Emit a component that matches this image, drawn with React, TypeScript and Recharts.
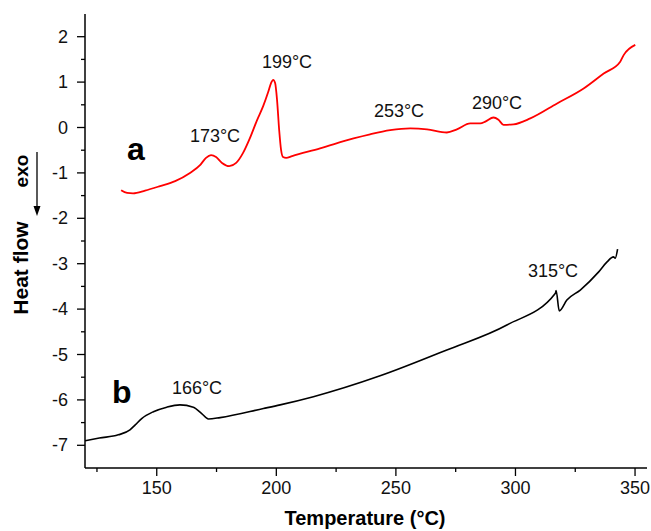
import { LineChart, Line, XAxis, YAxis } from 'recharts'

// curve a (red)
const tempA = [135.1, 137.6, 140.1, 145.1, 151.4, 157.7, 163.9, 168.1, 170.6, 172.7, 174.8, 177.3, 180.3, 183.2, 186.1, 189.0, 192.0, 194.5, 196.6, 197.8, 198.7, 199.5, 200.3, 201.2, 202.0, 202.8, 204.1, 206.6, 218.3, 232.3, 239.2, 247.6, 256.0, 263.0, 271.3, 275.5, 281.1, 285.3, 287.4, 290.8, 292.9, 295.0, 299.2, 306.2, 317.4, 328.5, 336.9, 343.8, 345.3, 350.1]
const flowA = [-1.38, -1.44, -1.45, -1.39, -1.29, -1.18, -1.0, -0.83, -0.67, -0.61, -0.65, -0.78, -0.85, -0.78, -0.56, -0.23, 0.17, 0.47, 0.78, 0.98, 1.05, 0.98, 0.61, -0.06, -0.5, -0.65, -0.67, -0.63, -0.46, -0.24, -0.15, -0.06, -0.02, -0.04, -0.11, -0.04, 0.09, 0.09, 0.13, 0.22, 0.17, 0.06, 0.07, 0.2, 0.53, 0.86, 1.19, 1.45, 1.6, 1.82]

// curve b (black)
const tempB = [120, 126, 133.9, 138.8, 141, 143.7, 148.6, 154.2, 159.7, 165.3, 168.8, 171.6, 176.5, 194.6, 201.6, 215.5, 243.4, 271.3, 296.4, 316.7, 317.0, 318.3, 321.5, 327.1, 334.8, 338.3, 341.0, 341.7, 342.7]
const flowB = [-6.9, -6.84, -6.77, -6.66, -6.55, -6.41, -6.26, -6.16, -6.11, -6.16, -6.3, -6.42, -6.39, -6.19, -6.11, -5.93, -5.47, -4.9, -4.35, -3.65, -3.59, -4.04, -3.8, -3.58, -3.18, -2.96, -2.85, -2.88, -2.68]

const xTicks = [125, 150, 175, 200, 225, 250, 275, 300, 325, 350]
const yTicks = [-7, -6.5, -6, -5.5, -5, -4.5, -4, -3.5, -3, -2.5, -2, -1.5, -1, -0.5, 0, 0.5, 1, 1.5, 2]

const seriesA = tempA.map((t, i) => ({ t, v: flowA[i] }))
const seriesB = tempB.map((t, i) => ({ t, v: flowB[i] }))

const FONT = '"Liberation Sans", Arial, sans-serif'

const XTick = (props: any) => {
  const { x, y, payload } = props
  const major = payload.value % 50 === 0
  return (
    <g>
      <line x1={x} y1={y} x2={x} y2={y + (major ? 8 : 4)} stroke="#000" strokeWidth={1.3} />
      {major && (
        <text x={x} y={y + 26} textAnchor="middle" fontSize={18} fontFamily={FONT} fill="#111">
          {payload.value}
        </text>
      )}
    </g>
  )
}

const YTick = (props: any) => {
  const { x, y, payload } = props
  const major = Math.abs(payload.value - Math.round(payload.value)) < 1e-6
  return (
    <g>
      <line x1={x} y1={y} x2={x - (major ? 8 : 4)} y2={y} stroke="#000" strokeWidth={1.3} />
      {major && (
        <text x={x - 17} y={y + 6} textAnchor="end" fontSize={18} fontFamily={FONT} fill="#111">
          {payload.value}
        </text>
      )}
    </g>
  )
}

export default function App() {
  const ann = { fontSize: 18, fontFamily: FONT, fill: '#111', textAnchor: 'middle' as const }
  return (
    <div style={{ position: 'absolute', left: 0, top: 0, width: 651, height: 531, background: '#fff' }}>
      <LineChart width={651} height={531} margin={{ top: 14, right: 4, bottom: 0, left: 0 }}>
        <XAxis
          type="number"
          dataKey="t"
          domain={[120, 355]}
          ticks={xTicks}
          interval={0}
          allowDataOverflow
          height={63}
          tickSize={0}
          tickMargin={0}
          tick={<XTick />}
          axisLine={{ stroke: '#000', strokeWidth: 1.5 }}
          tickLine={false}
        />
        <YAxis
          type="number"
          dataKey="v"
          domain={[-7.5, 2.5]}
          ticks={yTicks}
          interval={0}
          allowDataOverflow
          width={85}
          tickSize={0}
          tickMargin={0}
          tick={<YTick />}
          axisLine={{ stroke: '#000', strokeWidth: 1.5 }}
          tickLine={false}
        />
        <Line data={seriesA} dataKey="v" type="monotone" stroke="#ff0000" strokeWidth={1.8} dot={false} isAnimationActive={false} />
        <Line data={seriesB} dataKey="v" type="monotone" stroke="#000" strokeWidth={1.6} dot={false} isAnimationActive={false} />
      </LineChart>
      <svg width={651} height={531} style={{ position: 'absolute', left: 0, top: 0, pointerEvents: 'none' }}>
        <text x={215} y={142} {...ann}>173°C</text>
        <text x={287} y={68} {...ann}>199°C</text>
        <text x={399} y={117} {...ann}>253°C</text>
        <text x={497} y={109} {...ann}>290°C</text>
        <text x={553} y={277} {...ann}>315°C</text>
        <text x={197} y={394} {...ann}>166°C</text>
        <text x={127} y={160} fontSize={32} fontWeight="bold" fontFamily={FONT} fill="#000">a</text>
        <text x={112} y={403} fontSize={32} fontWeight="bold" fontFamily={FONT} fill="#000">b</text>
        <text x={365} y={525} textAnchor="middle" fontSize={20} fontWeight="bold" fontFamily={FONT} fill="#000">
          Temperature (°C)
        </text>
        <text x={28} y={268} transform="rotate(-90 28 268)" textAnchor="middle" fontSize={21} fontWeight="bold" fontFamily={FONT} fill="#000">
          Heat flow
        </text>
        <text x={28} y={171} transform="rotate(-90 28 171)" textAnchor="middle" fontSize={19} fontWeight="bold" fontFamily={FONT} fill="#000">
          exo
        </text>
        <line x1={37} y1={152} x2={37} y2={208} stroke="#000" strokeWidth={1.3} />
        <path d="M33.5,206 L37,216 L40.5,206 Z" fill="#000" />
      </svg>
    </div>
  )
}
